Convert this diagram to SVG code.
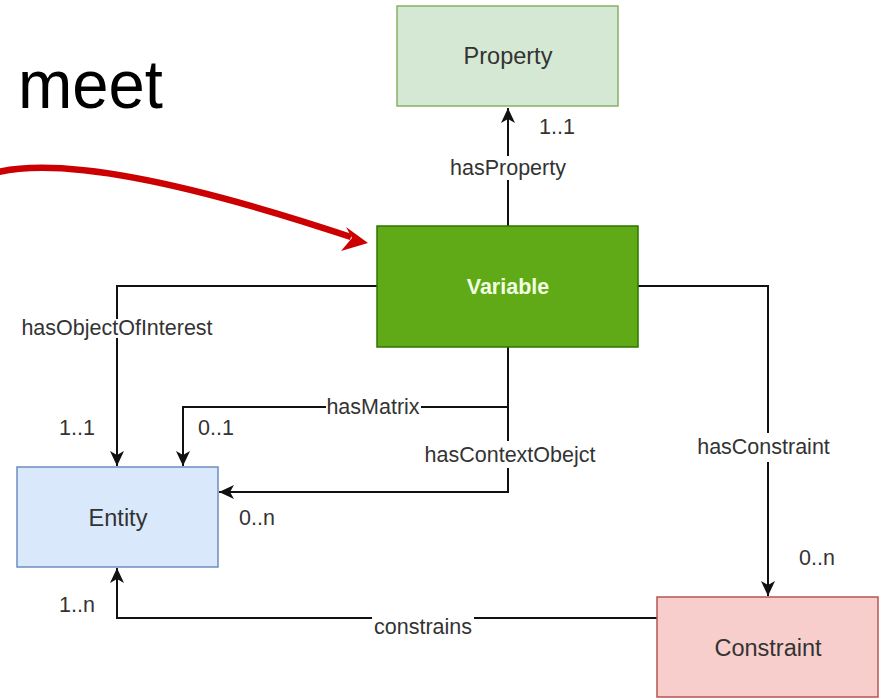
<svg xmlns="http://www.w3.org/2000/svg" width="879" height="698" viewBox="0 0 879 698">
<style>
.node rect{stroke-width:1.5}
.nl{font-family:"Liberation Sans",Arial,sans-serif;font-size:23.5px;fill:#333;text-anchor:middle;dominant-baseline:central}
.el{font-family:"Liberation Sans",Arial,sans-serif;font-size:21.5px;fill:#333;text-anchor:middle;dominant-baseline:central}
.edge{fill:none;stroke:#111;stroke-width:2}
.bg{fill:#fff}
</style>
<defs>
<marker id="ah" markerUnits="userSpaceOnUse" markerWidth="16" markerHeight="16" refX="15" refY="7" orient="auto">
<path d="M0,0 L15,7 L0,14 L4,7 z" fill="#111"/>
</marker>
</defs>
<rect x="0" y="0" width="879" height="698" fill="#fff"/>
<text x="18" y="108" font-family="&quot;Liberation Sans&quot;,Arial,sans-serif" font-size="68" fill="#000" textLength="145" lengthAdjust="spacingAndGlyphs">meet</text>
<g id="pointer">
<path d="M-2,172 C50,160 150,170 351,237" fill="none" stroke="#cc0000" stroke-width="6.5"/>
<polygon points="368,243 346,227 352,238 341,251" fill="#cc0000"/>
</g>
<g id="connectors">
<path class="edge" d="M508,226 L508,108" marker-end="url(#ah)"/>
<path class="edge" d="M377,286 L117,286 L117,466" marker-end="url(#ah)"/>
<path class="edge" d="M508,347 L508,407 L183,407 L183,466" marker-end="url(#ah)"/>
<path class="edge" d="M508,407 L508,492 L219,492" marker-end="url(#ah)"/>
<path class="edge" d="M638,286 L768,286 L768,596" marker-end="url(#ah)"/>
<path class="edge" d="M657,618 L117,618 L117,568" marker-end="url(#ah)"/>
<rect class="bg" x="448" y="156" width="120" height="24"/>
<text class="el" x="508" y="168">hasProperty</text>
<rect class="bg" x="20" y="319" width="195" height="19"/>
<text class="el" x="117" y="328">hasObjectOfInterest</text>
<rect class="bg" x="326" y="398" width="95" height="18"/>
<text class="el" x="373" y="407">hasMatrix</text>
<rect class="bg" x="422" y="441" width="176" height="27"/>
<text class="el" x="510" y="455">hasContextObejct</text>
<rect class="bg" x="694" y="433" width="139" height="29"/>
<text class="el" x="763.5" y="447">hasConstraint</text>
<rect class="bg" x="372" y="616" width="102" height="20"/>
<text class="el" x="423" y="627">constrains</text>
<text class="el" x="557" y="127">1..1</text>
<text class="el" x="77" y="428">1..1</text>
<text class="el" x="216" y="428">0..1</text>
<text class="el" x="257" y="518">0..n</text>
<text class="el" x="817" y="558">0..n</text>
<text class="el" x="77" y="605">1..n</text>
</g>
<g id="property" class="node">
<rect x="397" y="6" width="221" height="100" fill="#d5e8d4" stroke="#82b366"/>
<text class="nl" x="508" y="56">Property</text>
</g>
<g id="variable" class="node">
<rect x="377" y="226" width="261" height="121" fill="#60a917" stroke="#2d7600"/>
<text class="nl" x="508" y="287" style="font-weight:bold;font-size:21.5px;fill:#f0ffe0">Variable</text>
</g>
<g id="entity" class="node">
<rect x="17" y="467" width="201" height="100" fill="#dae8fc" stroke="#6c8ebf"/>
<text class="nl" x="118" y="518">Entity</text>
</g>
<g id="constraint" class="node">
<rect x="657" y="597" width="221" height="100" fill="#f8cecc" stroke="#b85450"/>
<text class="nl" x="768" y="648">Constraint</text>
</g>
</svg>
